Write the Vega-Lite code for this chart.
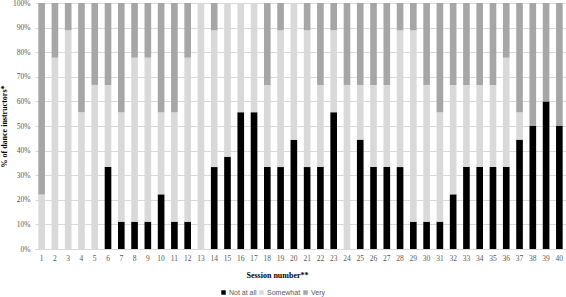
{
  "$schema": "https://vega.github.io/schema/vega-lite/v6.json",
  "autosize": {"type": "none"},
  "padding": {"left": 35, "top": 3, "right": 0, "bottom": 48},
  "width": 531,
  "height": 246,
  "background": "white",
  "data": {"values": [
    {"s":1,"c":"Not at all","v":0},{"s":1,"c":"Somewhat","v":22.2},{"s":1,"c":"Very","v":77.8},
    {"s":2,"c":"Not at all","v":0},{"s":2,"c":"Somewhat","v":77.8},{"s":2,"c":"Very","v":22.2},
    {"s":3,"c":"Not at all","v":0},{"s":3,"c":"Somewhat","v":88.9},{"s":3,"c":"Very","v":11.1},
    {"s":4,"c":"Not at all","v":0},{"s":4,"c":"Somewhat","v":55.6},{"s":4,"c":"Very","v":44.4},
    {"s":5,"c":"Not at all","v":0},{"s":5,"c":"Somewhat","v":66.7},{"s":5,"c":"Very","v":33.3},
    {"s":6,"c":"Not at all","v":33.3},{"s":6,"c":"Somewhat","v":33.3},{"s":6,"c":"Very","v":33.3},
    {"s":7,"c":"Not at all","v":11.1},{"s":7,"c":"Somewhat","v":44.4},{"s":7,"c":"Very","v":44.4},
    {"s":8,"c":"Not at all","v":11.1},{"s":8,"c":"Somewhat","v":66.7},{"s":8,"c":"Very","v":22.2},
    {"s":9,"c":"Not at all","v":11.1},{"s":9,"c":"Somewhat","v":66.7},{"s":9,"c":"Very","v":22.2},
    {"s":10,"c":"Not at all","v":22.2},{"s":10,"c":"Somewhat","v":33.3},{"s":10,"c":"Very","v":44.4},
    {"s":11,"c":"Not at all","v":11.1},{"s":11,"c":"Somewhat","v":44.4},{"s":11,"c":"Very","v":44.4},
    {"s":12,"c":"Not at all","v":11.1},{"s":12,"c":"Somewhat","v":66.7},{"s":12,"c":"Very","v":22.2},
    {"s":13,"c":"Not at all","v":0},{"s":13,"c":"Somewhat","v":100},{"s":13,"c":"Very","v":0},
    {"s":14,"c":"Not at all","v":33.3},{"s":14,"c":"Somewhat","v":55.6},{"s":14,"c":"Very","v":11.1},
    {"s":15,"c":"Not at all","v":37.5},{"s":15,"c":"Somewhat","v":62.5},{"s":15,"c":"Very","v":0},
    {"s":16,"c":"Not at all","v":55.6},{"s":16,"c":"Somewhat","v":44.4},{"s":16,"c":"Very","v":0},
    {"s":17,"c":"Not at all","v":55.6},{"s":17,"c":"Somewhat","v":44.4},{"s":17,"c":"Very","v":0},
    {"s":18,"c":"Not at all","v":33.3},{"s":18,"c":"Somewhat","v":33.3},{"s":18,"c":"Very","v":33.3},
    {"s":19,"c":"Not at all","v":33.3},{"s":19,"c":"Somewhat","v":55.6},{"s":19,"c":"Very","v":11.1},
    {"s":20,"c":"Not at all","v":44.4},{"s":20,"c":"Somewhat","v":55.6},{"s":20,"c":"Very","v":0},
    {"s":21,"c":"Not at all","v":33.3},{"s":21,"c":"Somewhat","v":55.6},{"s":21,"c":"Very","v":11.1},
    {"s":22,"c":"Not at all","v":33.3},{"s":22,"c":"Somewhat","v":33.3},{"s":22,"c":"Very","v":33.3},
    {"s":23,"c":"Not at all","v":55.6},{"s":23,"c":"Somewhat","v":33.3},{"s":23,"c":"Very","v":11.1},
    {"s":24,"c":"Not at all","v":0},{"s":24,"c":"Somewhat","v":66.7},{"s":24,"c":"Very","v":33.3},
    {"s":25,"c":"Not at all","v":44.4},{"s":25,"c":"Somewhat","v":22.2},{"s":25,"c":"Very","v":33.3},
    {"s":26,"c":"Not at all","v":33.3},{"s":26,"c":"Somewhat","v":33.3},{"s":26,"c":"Very","v":33.3},
    {"s":27,"c":"Not at all","v":33.3},{"s":27,"c":"Somewhat","v":33.3},{"s":27,"c":"Very","v":33.3},
    {"s":28,"c":"Not at all","v":33.3},{"s":28,"c":"Somewhat","v":55.6},{"s":28,"c":"Very","v":11.1},
    {"s":29,"c":"Not at all","v":11.1},{"s":29,"c":"Somewhat","v":77.8},{"s":29,"c":"Very","v":11.1},
    {"s":30,"c":"Not at all","v":11.1},{"s":30,"c":"Somewhat","v":55.6},{"s":30,"c":"Very","v":33.3},
    {"s":31,"c":"Not at all","v":11.1},{"s":31,"c":"Somewhat","v":44.4},{"s":31,"c":"Very","v":44.4},
    {"s":32,"c":"Not at all","v":22.2},{"s":32,"c":"Somewhat","v":44.4},{"s":32,"c":"Very","v":33.3},
    {"s":33,"c":"Not at all","v":33.3},{"s":33,"c":"Somewhat","v":33.3},{"s":33,"c":"Very","v":33.3},
    {"s":34,"c":"Not at all","v":33.3},{"s":34,"c":"Somewhat","v":33.3},{"s":34,"c":"Very","v":33.3},
    {"s":35,"c":"Not at all","v":33.3},{"s":35,"c":"Somewhat","v":33.3},{"s":35,"c":"Very","v":33.3},
    {"s":36,"c":"Not at all","v":33.3},{"s":36,"c":"Somewhat","v":44.4},{"s":36,"c":"Very","v":22.2},
    {"s":37,"c":"Not at all","v":44.4},{"s":37,"c":"Somewhat","v":11.1},{"s":37,"c":"Very","v":44.4},
    {"s":38,"c":"Not at all","v":50},{"s":38,"c":"Somewhat","v":0},{"s":38,"c":"Very","v":50},
    {"s":39,"c":"Not at all","v":60},{"s":39,"c":"Somewhat","v":0},{"s":39,"c":"Very","v":40},
    {"s":40,"c":"Not at all","v":50},{"s":40,"c":"Somewhat","v":0},{"s":40,"c":"Very","v":50}
  ]},
  "mark": {"type": "bar"},
  "encoding": {
    "x": {
      "field": "s", "type": "ordinal", "sort": "ascending",
      "scale": {"paddingInner": 0.5, "paddingOuter": 0.25},
      "axis": {
        "title": "Session number**", "labelAngle": 0, "ticks": false,
        "labelFont": "Liberation Serif", "labelFontSize": 7.5, "labelColor": "#595959",
        "labelPadding": 5, "domainColor": "#d9d9d9",
        "titleFont": "Liberation Serif", "titleFontSize": 8, "titleFontWeight": "bold",
        "titleColor": "#000000", "titlePadding": 10, "titleX": 242
      }
    },
    "y": {
      "field": "v", "type": "quantitative", "stack": "normalize",
      "axis": {
        "title": "% of dance instructors*", "format": "%",
        "values": [0, 0.1, 0.2, 0.3, 0.4, 0.5, 0.6, 0.7, 0.8, 0.9, 1],
        "domain": false, "ticks": false, "gridColor": "#d9d9d9",
        "labelFont": "Liberation Serif", "labelFontSize": 7.5, "labelColor": "#595959",
        "labelPadding": 5,
        "titleFont": "Liberation Serif", "titleFontSize": 8, "titleFontWeight": "bold",
        "titleColor": "#000000", "titlePadding": 4
      }
    },
    "order": {"field": "c", "sort": "ascending"},
    "color": {
      "field": "c", "type": "nominal",
      "scale": {"domain": ["Not at all", "Somewhat", "Very"], "range": ["#000000", "#d9d9d9", "#a6a6a6"]},
      "legend": {
        "title": null, "orient": "none", "legendX": 185, "legendY": 286,
        "direction": "horizontal", "symbolType": "square", "symbolSize": 20,
        "symbolStrokeWidth": 0, "labelFont": "Liberation Sans", "labelFontSize": 7,
        "labelColor": "#595959", "labelOffset": 2, "columnPadding": 1, "gridAlign": "none"
      }
    }
  },
  "config": {"view": {"stroke": null}}
}
